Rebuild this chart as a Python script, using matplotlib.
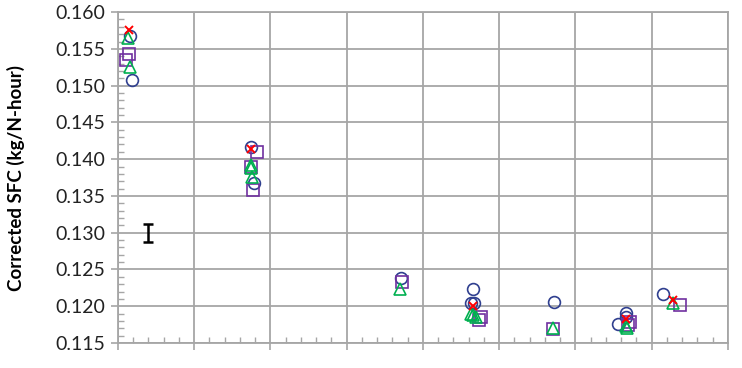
import matplotlib
matplotlib.use("Agg")
import matplotlib.pyplot as plt
from matplotlib.ticker import MultipleLocator, NullFormatter

plt.rcParams['font.family'] = ['Lato', 'DejaVu Sans']

# Data (x in grid-interval units, y in kg/N-hour)
circle_x = [0.158, 0.184, 1.744, 1.787, 3.706, 4.652, 4.632, 4.672, 5.716, 6.662, 6.662, 6.564, 7.155]
circle_y = [0.1568, 0.1508, 0.1417, 0.1368, 0.1238, 0.1224, 0.1204, 0.1204, 0.1206, 0.1191, 0.1186, 0.1176, 0.1216]

square_x = [0.145, 0.105, 1.827, 1.748, 1.774, 3.725, 4.763, 4.731, 5.710, 6.721, 6.689, 7.372]
square_y = [0.1543, 0.1535, 0.1410, 0.1390, 0.1358, 0.1233, 0.1185, 0.1181, 0.1169, 0.1179, 0.1175, 0.1202]

tri_x = [0.131, 0.158, 1.741, 1.761, 1.741, 3.699, 4.652, 4.691, 4.630, 5.710, 6.662, 6.675, 7.285]
tri_y = [0.1565, 0.1525, 0.1392, 0.1376, 0.1388, 0.1224, 0.1188, 0.1186, 0.1190, 0.1170, 0.1173, 0.1170, 0.1205]

cross_x = [0.145, 1.741, 4.652, 6.662, 7.285]
cross_y = [0.1576, 0.1414, 0.1200, 0.1183, 0.1208]

err_x = [0.398]
err_y = [0.1300]
err_half = [0.00125]

fig = plt.figure(figsize=(7.42, 3.68), dpi=100)
ax = fig.add_axes([0.159, 0.068, 0.822, 0.899])

grid_c = '#A6A6A6'
ax.set_xlim(0, 8)
ax.set_ylim(0.115, 0.160)
ax.xaxis.set_major_locator(MultipleLocator(1))
ax.xaxis.set_minor_locator(MultipleLocator(0.2))
ax.yaxis.set_major_locator(MultipleLocator(0.005))
ax.yaxis.set_minor_locator(MultipleLocator(0.001))
ax.xaxis.set_major_formatter(NullFormatter())
ax.yaxis.set_major_formatter(plt.FuncFormatter(lambda v, p: f"{v:.3f}"))
ax.grid(True, which='major', color=grid_c, linewidth=1.3)
ax.set_axisbelow(True)
for s in ax.spines.values():
    s.set_color(grid_c)
    s.set_linewidth(1.3)
ax.tick_params(axis='both', which='major', direction='out', length=5, color=grid_c, width=1.2)
ax.tick_params(axis='both', which='minor', direction='in', length=4, color=grid_c, width=1.0)
ax.tick_params(axis='y', labelsize=14, pad=4, labelcolor='#222222')

ax.plot(circle_x, circle_y, linestyle='none', marker='o', markersize=8.5,
        markerfacecolor='none', markeredgecolor='#2F3F8F', markeredgewidth=1.2)
ax.plot(square_x, square_y, linestyle='none', marker='s', markersize=8,
        markerfacecolor='none', markeredgecolor='#7030A0', markeredgewidth=1.2)
ax.plot(tri_x, tri_y, linestyle='none', marker='^', markersize=8,
        markerfacecolor='none', markeredgecolor='#00B050', markeredgewidth=1.2)
ax.plot(cross_x, cross_y, linestyle='none', marker='x', markersize=6,
        markeredgecolor='#FF0000', markeredgewidth=1.4)

ax.errorbar(err_x, err_y, yerr=err_half, fmt='none', ecolor='black',
            elinewidth=1.8, capsize=3.5, capthick=1.8)

ax.set_ylabel('Corrected SFC (kg/N-hour)', fontsize=13.5, fontweight='bold')
ax.yaxis.set_label_coords(-0.152, 0.5)

fig.savefig('out.png', dpi=100)
